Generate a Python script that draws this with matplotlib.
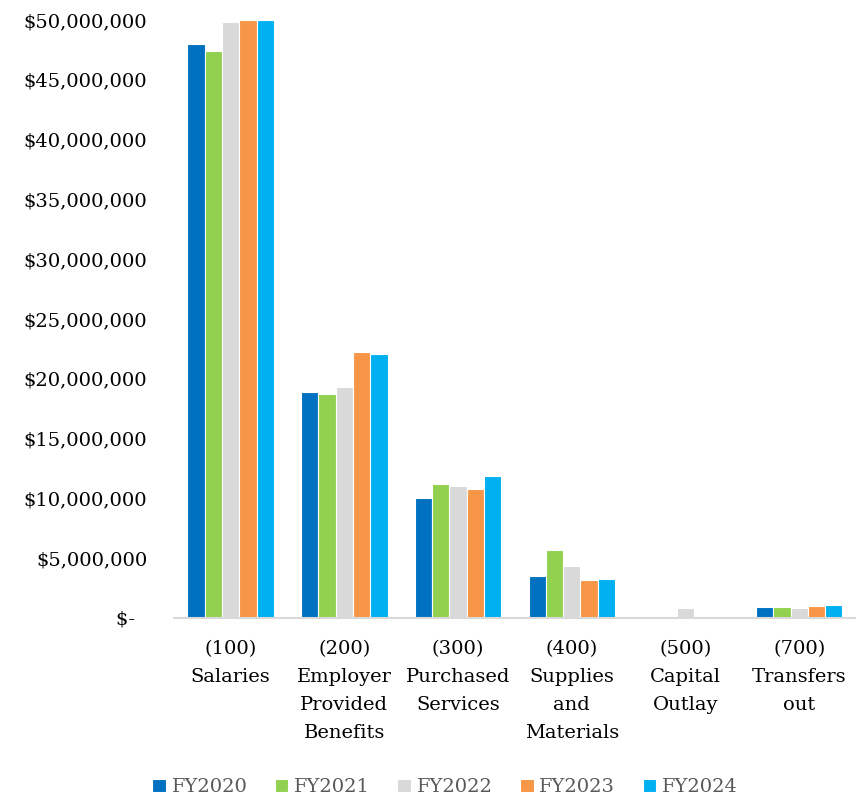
import numpy as np
import matplotlib
matplotlib.use('Agg')
import matplotlib.pyplot as plt
from matplotlib.ticker import FuncFormatter

plt.rcParams['font.family'] = ['DejaVu Serif']

categories = ['(100)\nSalaries', '(200)\nEmployer\nProvided\nBenefits', '(300)\nPurchased\nServices',
              '(400)\nSupplies\nand\nMaterials', '(500)\nCapital\nOutlay', '(700)\nTransfers\nout']
years = ['FY2020', 'FY2021', 'FY2022', 'FY2023', 'FY2024']
colors = ['#0070C0', '#92D050', '#D9D9D9', '#F79646', '#00B0F0']

# values in dollars, one list per fiscal year
fy2020 = [48.0e6, 18.9e6, 10.0e6, 3.5e6, 0, 0.95e6]
fy2021 = [47.4e6, 18.7e6, 11.2e6, 5.7e6, 0, 0.95e6]
fy2022 = [49.8e6, 19.3e6, 11.0e6, 4.35e6, 0.81e6, 0.87e6]
fy2023 = [50.0e6, 22.2e6, 10.75e6, 3.15e6, 0, 1.0e6]
fy2024 = [50.0e6, 22.1e6, 11.9e6, 3.3e6, 0, 1.08e6]
series = [fy2020, fy2021, fy2022, fy2023, fy2024]

fig = plt.figure(figsize=(8.56, 7.98), dpi=100)
ax = fig.add_axes([0.203, 0.2256, 0.797, 0.7494])

x = np.arange(len(categories))
w = 0.152
for i, (vals, c, name) in enumerate(zip(series, colors, years)):
    ax.bar(x + (i - 2) * w, vals, w, color=c, edgecolor='white', linewidth=0.8, label=name)

ax.set_xlim(-0.5, len(categories) - 0.5)
ax.set_ylim(0, 50e6)
ax.set_yticks(np.arange(0, 50e6 + 1, 5e6))

def money(v, pos):
    if v == 0:
        return '$-  '
    return '${:,.0f}'.format(v)

ax.yaxis.set_major_formatter(FuncFormatter(money))
ax.set_xticks(x)
ax.set_xticklabels(categories, linespacing=1.72)

for s in ['top', 'right', 'left']:
    ax.spines[s].set_visible(False)
ax.spines['bottom'].set_color('#D9D9D9')
ax.spines['bottom'].set_linewidth(1.5)
ax.tick_params(axis='y', length=0, labelsize=14, pad=19)
ax.tick_params(axis='x', length=0, labelsize=14, pad=16)

leg = fig.legend(loc='lower center', bbox_to_anchor=(0.52, -0.02), ncol=5, frameon=False,
                 fontsize=14, handlelength=0.7, handleheight=0.7, handletextpad=0.3,
                 columnspacing=1.4)
for t in leg.get_texts():
    t.set_color('#595959')

fig.savefig('out.png', dpi=100)
